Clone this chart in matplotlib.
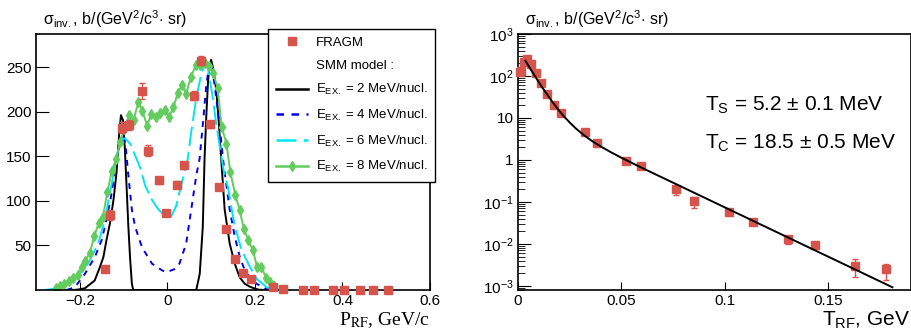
import matplotlib
matplotlib.use("Agg")
import matplotlib.pyplot as plt
from matplotlib.lines import Line2D
from matplotlib.ticker import FixedLocator, FixedFormatter, LogLocator, NullFormatter

plt.rcParams["font.family"] = ["Liberation Sans", "DejaVu Sans"]
plt.rcParams["mathtext.fontset"] = "custom"
plt.rcParams["mathtext.rm"] = "Liberation Sans"
plt.rcParams["mathtext.it"] = "Liberation Sans:italic"

RED = "#d6544c"
GREEN = "#62cc5e"
CYAN = "#00e6f0"
BLUE = "#0000ee"

# ---- left panel: momentum spectrum ----
fragm_p = [-0.143, -0.131, -0.103, -0.087, -0.059, -0.044, -0.018, -0.004, 0.021, 0.037,
           0.060, 0.077, 0.097, 0.117, 0.135, 0.154, 0.172, 0.192, 0.242, 0.264,
           0.310, 0.334, 0.378, 0.403, 0.441, 0.470, 0.505]
fragm_sig = [23, 84, 182, 185, 223, 156, 123, 86, 118, 140,
             218, 257, 186, 116, 68, 35, 19, 12, 3.4, 1.5,
             0.3, 0.3, 0.3, 0.3, 0.3, 0.3, 0.3]
fragm_err = [3, 6, 6, 6, 9, 6, 4, 3, 4, 4,
             5, 5, 4, 3, 3, 2, 2, 1, 1, 0.5,
             0.2, 0.2, 0.2, 0.2, 0.2, 0.2, 0.2]

e2_p = [-0.215, -0.204, -0.188, -0.166, -0.154, -0.146, -0.139, -0.131, -0.123, -0.116,
        -0.110, -0.106, -0.101, -0.097, -0.093, -0.089, -0.085, -0.081, -0.078, 0.066,
        0.074, 0.081, 0.085, 0.089, 0.093, 0.096, 0.100, 0.104, 0.108, 0.112,
        0.118, 0.123, 0.131, 0.1425, 0.154, 0.1655, 0.177, 0.1885, 0.200, 0.210, 0.230]
e2_sig = [0, 0.5, 2, 10.6, 25.7, 37, 56, 75, 101, 132,
          175, 196, 190, 158, 115, 71, 35, 7, 0, 0,
          18, 71, 147, 195, 234, 250, 258, 250, 238, 223,
          185, 147, 90, 52, 29.5, 14, 7, 3.7, 1.5, 0.3, 0]

e4_p = [-0.230, -0.2115, -0.1885, -0.1655, -0.150, -0.139, -0.127, -0.116, -0.108, -0.100,
        -0.095, -0.089, -0.081, -0.0736, -0.058, -0.035, -0.012, -0.003, 0.015, 0.0276,
        0.043, 0.0545, 0.066, 0.0736, 0.081, 0.089, 0.0966, 0.102, 0.108, 0.1195,
        0.127, 0.1425, 0.154, 0.1655, 0.177, 0.190, 0.204, 0.227, 0.240]
e4_sig = [0, 3, 18, 37, 56, 79, 109, 145, 168, 175,
          160, 128, 90, 71, 48, 29.5, 22, 20, 23, 29.5,
          52, 90, 128, 147, 185, 230, 255, 250, 230, 185,
          147, 90, 60, 37, 22, 13, 7, 1, 0]

e6_p = [-0.280, -0.250, -0.227, -0.204, -0.181, -0.158, -0.1425, -0.131, -0.1195, -0.108,
        -0.0966, -0.085, -0.0736, -0.062, -0.0506, -0.035, -0.020, -0.007, 0.0085, 0.020,
        0.0315, 0.039, 0.0467, 0.0545, 0.066, 0.0775, 0.085, 0.0926, 0.104, 0.112,
        0.120, 0.130, 0.1386, 0.1464, 0.154, 0.1694, 0.1885, 0.204, 0.227, 0.250, 0.275]
e6_sig = [0, 2, 7, 16, 29.5, 52, 79, 109, 139, 168,
          170, 164, 151, 137, 117, 101, 90, 84, 82.5, 94,
          117, 132, 147, 177, 215, 242, 253, 249, 215, 185,
          160, 130, 115, 92, 72, 45, 26, 12.5, 3, 0.5, 0]

e8_p = [-0.255, -0.245, -0.235, -0.225, -0.215, -0.205, -0.196, -0.187, -0.177, -0.167,
        -0.157, -0.147, -0.137, -0.127, -0.117, -0.108, -0.098, -0.087, -0.077, -0.066,
        -0.057, -0.046, -0.037, -0.026, -0.016, -0.006, 0.004, 0.014, 0.024, 0.034,
        0.043, 0.054, 0.065, 0.075, 0.085, 0.096, 0.105, 0.115, 0.124, 0.135,
        0.144, 0.155, 0.165, 0.175, 0.185, 0.195, 0.205, 0.215, 0.225, 0.235, 0.244]
e8_sig = [2, 4, 7, 10, 13, 17, 26, 33, 42, 60,
          75, 82, 110, 133, 147, 166, 181, 196, 191, 211,
          201, 184, 197, 194, 198, 202, 194, 205, 221, 230,
          220, 239, 252, 252, 255, 251, 243, 226, 183, 164,
          132, 107, 90, 68, 56, 45, 26, 26, 14, 9, 4]

# ---- right panel: kinetic energy spectrum ----
t_rf = [0.0008, 0.0016, 0.0028, 0.0044, 0.0065, 0.0086, 0.011, 0.014, 0.0173, 0.021,
        0.0326, 0.0384, 0.0521, 0.0597, 0.0762, 0.0852, 0.102, 0.1137, 0.1304, 0.1436,
        0.163, 0.1778]
t_sig = [126, 135, 212, 250, 190, 116, 69, 37, 20.4, 13,
         4.7, 2.6, 0.96, 0.73, 0.2, 0.106, 0.059, 0.034, 0.0129, 0.0095,
         0.003, 0.0025]
t_err_lo = [8, 8, 12, 15, 10, 7, 4, 2, 1.2, 0.8,
            0.3, 0.15, 0.06, 0.05, 0.05, 0.035, 0.005, 0.006, 0.003, 0.0015,
            0.0014, 0.0011]
t_err_hi = [8, 8, 12, 15, 10, 7, 4, 2, 1.2, 0.8,
            0.3, 0.15, 0.06, 0.05, 0.03, 0.025, 0.005, 0.005, 0.002, 0.0015,
            0.0015, 0.0009]

# two-temperature fit, points
fit_t = [0.0036, 0.006, 0.008, 0.010, 0.012, 0.014, 0.016, 0.018, 0.020, 0.022,
         0.025, 0.028, 0.032, 0.036, 0.040, 0.045, 0.050, 0.060, 0.181]
fit_sig = [230, 147, 103, 72, 51, 37, 26.7, 19.7, 14.7, 11.2,
           7.8, 5.6, 3.85, 2.78, 2.1, 1.52, 1.13, 0.646, 0.00093]

fig = plt.figure(figsize=(9.11, 3.33), dpi=100)
W, H = 911.0, 333.0
ax1 = fig.add_axes([36 / W, (H - 290) / H, 394 / W, 256 / H])
ax2 = fig.add_axes([518 / W, (H - 290) / H, 393 / W, 256 / H])

for ax in (ax1, ax2):
    for s in ax.spines.values():
        s.set_linewidth(1.2)
    ax.tick_params(direction="in", labelsize=11, pad=3, top=False, right=False)

# left
ax1.plot(e2_p, e2_sig, color="black", lw=1.4)
ax1.plot(e4_p, e4_sig, color=BLUE, lw=1.4, dashes=(3, 3))
ax1.plot(e6_p, e6_sig, color=CYAN, lw=1.4, dashes=(10, 3))
ax1.plot(e8_p, e8_sig, color=GREEN, lw=1.4, marker="d", ms=5, mec=GREEN, mfc=GREEN)
ax1.errorbar(fragm_p, fragm_sig, yerr=fragm_err, fmt="s", color=RED, ms=6,
             elinewidth=1, capsize=2, clip_on=False, zorder=5)
ax1.set_xlim(-0.3, 0.6)
ax1.set_ylim(0, 287)
ax1.xaxis.set_major_locator(FixedLocator([-0.2, 0, 0.2, 0.4, 0.6]))
ax1.xaxis.set_major_formatter(FixedFormatter(["\u22120.2", "0", "0.2", "0.4", "0.6"]))
ax1.yaxis.set_major_locator(FixedLocator([50, 100, 150, 200, 250]))
ax1.tick_params(axis="y", length=9)
ax1.tick_params(axis="x", length=6)

handles = [
    Line2D([], [], ls="none", marker="s", color=RED, ms=6),
    Line2D([], [], ls="none"),
    Line2D([], [], color="black", lw=1.8),
    Line2D([], [], color=BLUE, lw=1.8, dashes=(3, 3)),
    Line2D([], [], color=CYAN, lw=1.8, dashes=(8, 3)),
    Line2D([], [], color=GREEN, lw=1.8, marker="d", ms=5),
]
labels = ["FRAGM", "SMM model :",
          "E$_{\\rm EX.}$ = 2 MeV/nucl.", "E$_{\\rm EX.}$ = 4 MeV/nucl.",
          "E$_{\\rm EX.}$ = 6 MeV/nucl.", "E$_{\\rm EX.}$ = 8 MeV/nucl."]
leg = ax1.legend(handles, labels, loc="upper left", bbox_to_anchor=(0.589, 1.02),
                 fontsize=9.5, frameon=True, fancybox=False, edgecolor="black",
                 framealpha=1, numpoints=1, handlelength=2.4, handletextpad=0.6,
                 labelspacing=0.8, borderpad=0.6, borderaxespad=0)
leg.get_frame().set_linewidth(1.0)
leg.set_clip_on(False)

fig.text(43 / W, 1 - 25 / H,
         "\u03c3$_{\\rm inv.}$, b/(GeV$^{2}$/c$^{3}$$\\cdot$ sr)",
         fontsize=11.5, va="baseline", ha="left")
fig.text(430 / W, 1 - 325 / H, "P$_{\\rm RF}$, GeV/c", fontsize=14,
         family="Liberation Serif", math_fontfamily="stix", ha="right", va="baseline")

# right
ax2.errorbar(t_rf, t_sig, yerr=[t_err_lo, t_err_hi], fmt="s", color=RED, ms=6,
             elinewidth=1, capsize=2, clip_on=False, zorder=5)
ax2.plot(fit_t, fit_sig, color="black", lw=1.4, zorder=6)
ax2.set_yscale("log")
ax2.set_xlim(0, 0.19)
ax2.set_ylim(8e-4, 1e3)
ax2.xaxis.set_major_locator(FixedLocator([0, 0.05, 0.1, 0.15]))
ax2.xaxis.set_major_formatter(FixedFormatter(["0", "0.05", "0.1", "0.15"]))
ax2.yaxis.set_major_locator(FixedLocator([1e-3, 1e-2, 1e-1, 1, 10, 1e2, 1e3]))
ax2.yaxis.set_major_formatter(FixedFormatter(
    ["10$^{-3}$", "10$^{-2}$", "10$^{-1}$", "1", "10", "10$^{2}$", "10$^{3}$"]))
ax2.yaxis.set_minor_locator(LogLocator(base=10, subs=range(2, 10), numticks=20))
ax2.yaxis.set_minor_formatter(NullFormatter())
ax2.tick_params(axis="y", which="major", length=9)
ax2.tick_params(axis="y", which="minor", length=5, direction="in", right=False)
ax2.tick_params(axis="x", length=6)

ax2.text(0.475, 0.70, "T$_{\\rm S}$ = 5.2 \u00b1 0.1 MeV", transform=ax2.transAxes, fontsize=15)
ax2.text(0.475, 0.55, "T$_{\\rm C}$ = 18.5 \u00b1 0.5 MeV", transform=ax2.transAxes, fontsize=15)

fig.text(525 / W, 1 - 25 / H,
         "\u03c3$_{\\rm inv.}$, b/(GeV$^{2}$/c$^{3}$$\\cdot$ sr)",
         fontsize=11.5, va="baseline", ha="left")
fig.text(910 / W, 1 - 326 / H, "T$_{\\rm RF}$, GeV", fontsize=15, ha="right", va="baseline")

fig.savefig("out.png", dpi=100)
